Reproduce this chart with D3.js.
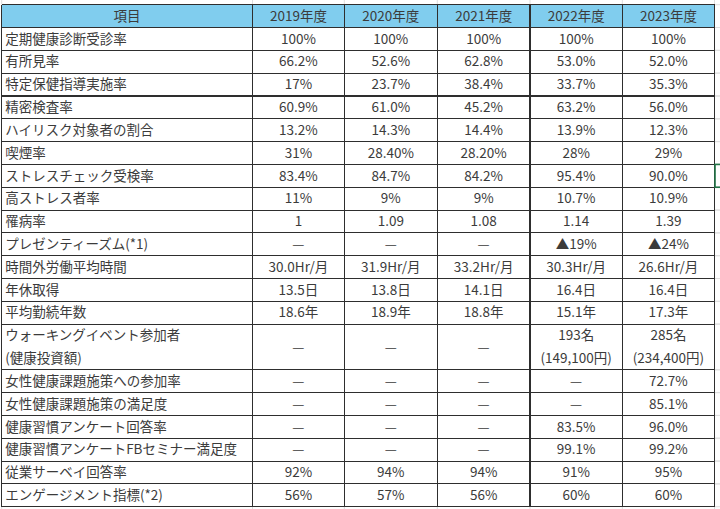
<!DOCTYPE html>
<html><head><meta charset="utf-8">
<script src="https://cdn.jsdelivr.net/npm/d3@7"></script>
<style>html,body{margin:0;padding:0;background:#fff;}svg{display:block;}</style>
</head><body>
<svg id="chart" width="720" height="509"></svg>
<script>
const headerLabel = "項目";
const years = ["2019年度","2020年度","2021年度","2022年度","2023年度"];
const items = ["定期健康診断受診率","有所見率","特定保健指導実施率","精密検査率","ハイリスク対象者の割合","喫煙率","ストレスチェック受検率","高ストレス者率","罹病率","プレゼンティーズム(*1)","時間外労働平均時間","年休取得","平均勤続年数","ウォーキングイベント参加者\n(健康投資額)","女性健康課題施策への参加率","女性健康課題施策の満足度","健康習慣アンケート回答率","健康習慣アンケートFBセミナー満足度","従業サーベイ回答率","エンゲージメント指標(*2)"];
const v2019 = ["100%","66.2%","17%","60.9%","13.2%","31%","83.4%","11%","1","—","30.0Hr/月","13.5日","18.6年","—","—","—","—","—","92%","56%"];
const v2020 = ["100%","52.6%","23.7%","61.0%","14.3%","28.40%","84.7%","9%","1.09","—","31.9Hr/月","13.8日","18.9年","—","—","—","—","—","94%","57%"];
const v2021 = ["100%","62.8%","38.4%","45.2%","14.4%","28.20%","84.2%","9%","1.08","—","33.2Hr/月","14.1日","18.8年","—","—","—","—","—","94%","56%"];
const v2022 = ["100%","53.0%","33.7%","63.2%","13.9%","28%","95.4%","10.7%","1.14","▲19%","30.3Hr/月","16.4日","15.1年","193名\n(149,100円)","—","—","83.5%","99.1%","91%","60%"];
const v2023 = ["100%","52.0%","35.3%","56.0%","12.3%","29%","90.0%","10.9%","1.39","▲24%","26.6Hr/月","16.4日","17.3年","285名\n(234,400円)","72.7%","85.1%","96.0%","99.2%","95%","60%"];
const series = [v2019, v2020, v2021, v2022, v2023];

(function () {
const svg = d3.select("#chart");
const font = "'Noto Sans CJK JP','Noto Sans',sans-serif";
const textColor = "#3b3b3b";
const lineColor = "#2e2e2e";
const gridColor = "#dedede";

const colEdges = [1.7, 252.5, 344.3, 437.3, 530, 622.3, 714.5];
const tableTop = 4.7, tableBottom = 506.7;
const rows = [{label: headerLabel, cells: years, header: true}].concat(
  items.map((it, i) => ({label: it, cells: series.map(s => s[i]), header: false}))
);
rows.forEach(r => {
  r.lines = Math.max(r.label.split("\n").length, ...r.cells.map(c => c.split("\n").length));
});
const totalUnits = d3.sum(rows, r => r.lines);
const y = d3.scaleLinear().domain([0, totalUnits]).range([tableTop, tableBottom]);
let acc = 0;
rows.forEach(r => { r.u0 = acc; acc += r.lines; r.u1 = acc; });
const unitH = y(1) - y(0);

const gridG = svg.append("g");
colEdges.forEach(x => {
  gridG.append("line").attr("x1", x).attr("x2", x).attr("y1", 0).attr("y2", tableTop)
    .attr("stroke", gridColor).attr("stroke-width", 1);
  gridG.append("line").attr("x1", x).attr("x2", x).attr("y1", tableBottom).attr("y2", 509)
    .attr("stroke", gridColor).attr("stroke-width", 1);
});
rows.forEach(r => {
  [r.u0, r.u1].forEach(u => {
    gridG.append("line").attr("x1", colEdges[6]).attr("x2", 720).attr("y1", y(u)).attr("y2", y(u))
      .attr("stroke", gridColor).attr("stroke-width", 1);
  });
});

svg.append("rect").attr("x", colEdges[0]).attr("y", y(0))
  .attr("width", colEdges[6] - colEdges[0]).attr("height", unitH)
  .attr("fill", "#80cdee");

const tg = svg.append("g").attr("font-family", font).attr("font-size", 13.5).attr("fill", textColor);
rows.forEach(r => {
  const all = [r.label].concat(r.cells);
  all.forEach((txt, ci) => {
    const parts = txt.split("\n");
    const x0 = colEdges[ci], x1 = colEdges[ci + 1];
    const leftAlign = (ci === 0 && !r.header);
    const startUnit = r.u0 + (r.lines - parts.length) / 2;
    parts.forEach((p, li) => {
      tg.append("text")
        .attr("x", leftAlign ? x0 + 3.5 : (x0 + x1) / 2)
        .attr("y", y(startUnit + li + 0.5))
        .attr("dy", "0.35em")
        .attr("text-anchor", leftAlign ? "start" : "middle")
        .text(p);
    });
  });
});

const bg = svg.append("g").attr("stroke", lineColor).attr("stroke-width", 1.1).attr("shape-rendering", "crispEdges");
rows.forEach(r => {
  bg.append("line").attr("x1", colEdges[0]).attr("x2", colEdges[6]).attr("y1", y(r.u0)).attr("y2", y(r.u0));
});
bg.append("line").attr("x1", colEdges[0]).attr("x2", colEdges[6]).attr("y1", y(totalUnits)).attr("y2", y(totalUnits));
colEdges.forEach(x => {
  bg.append("line").attr("x1", x).attr("x2", x).attr("y1", tableTop).attr("y2", tableBottom);
});

const selRow = rows[7];
svg.append("rect").attr("x", colEdges[6] + 0.5).attr("y", y(selRow.u0))
  .attr("width", 10).attr("height", y(selRow.u1) - y(selRow.u0))
  .attr("fill", "none").attr("stroke", "#217346").attr("stroke-width", 1.6);
})();
</script>
</body></html>
